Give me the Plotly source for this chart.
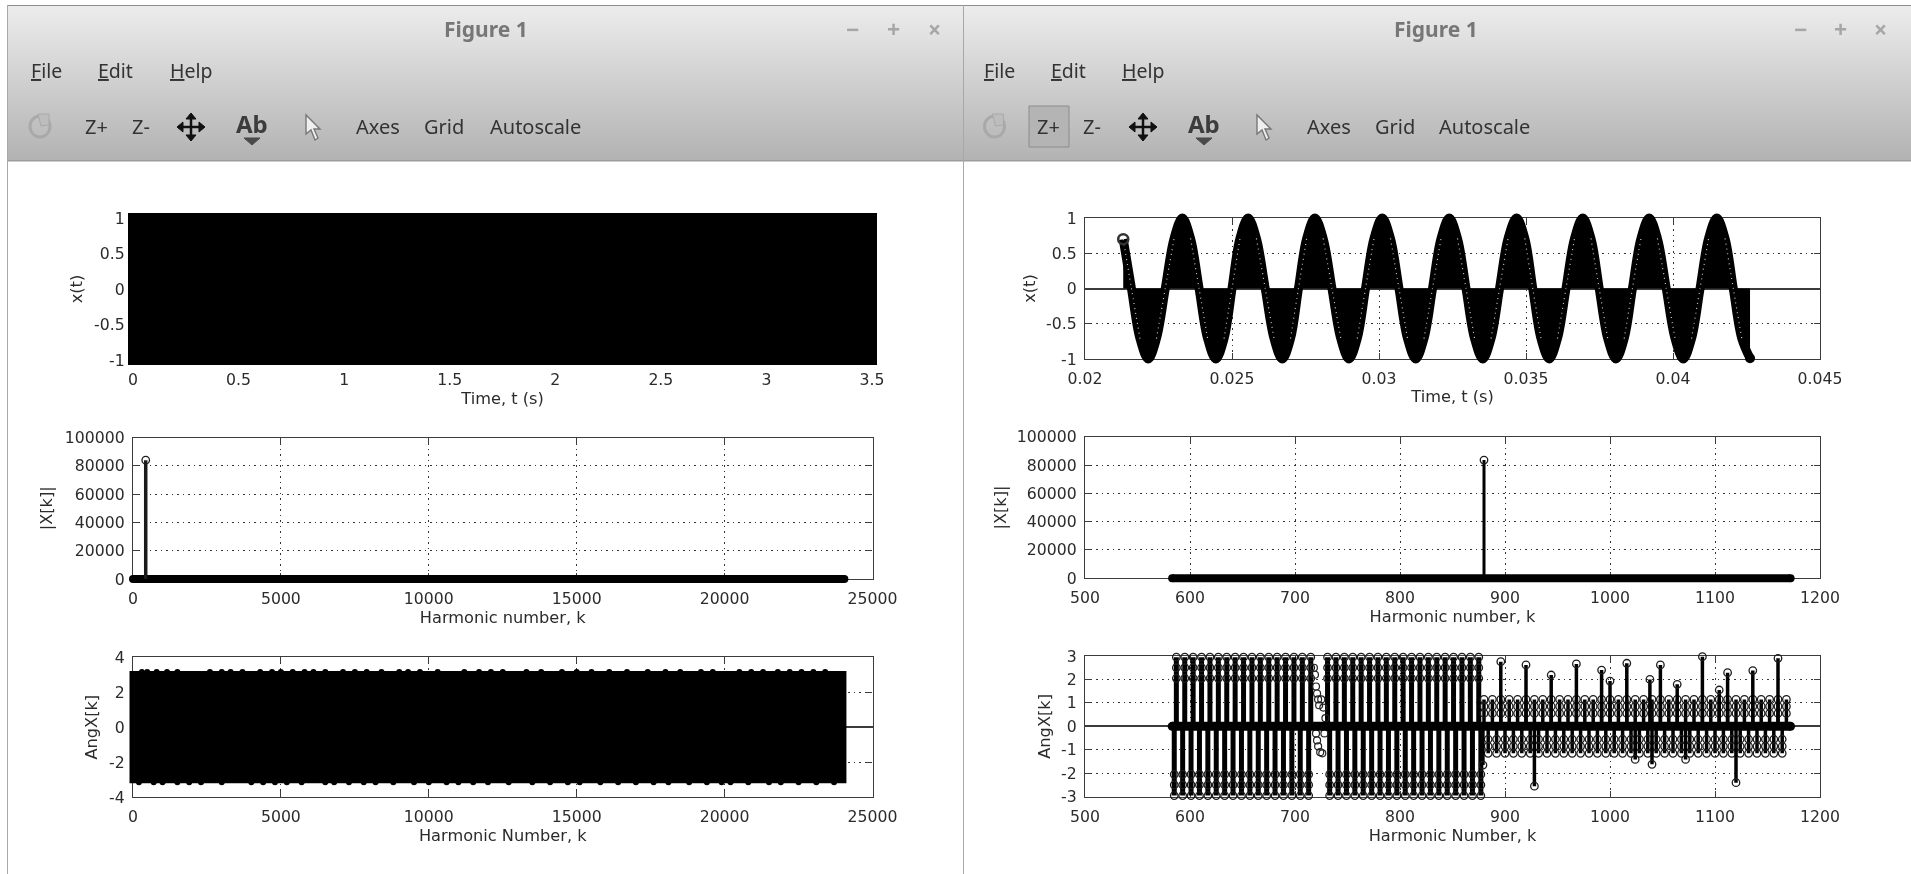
import plotly.graph_objects as go

W, H = 1911, 874

# ---------- data ----------
t_ticks_left = [0, 0.5, 1, 1.5, 2, 2.5, 3, 3.5]
t_labels_left = ["0", "0.5", "1", "1.5", "2", "2.5", "3", "3.5"]
t_ticks_right = [0.02, 0.025, 0.03, 0.035, 0.04, 0.045]
t_labels_right = ["0.02", "0.025", "0.03", "0.035", "0.04", "0.045"]
x_ticks_vals = [-1, -0.5, 0, 0.5, 1]
x_ticks_text = ["-1", "-0.5", "0", "0.5", "1"]
k_ticks_left = [0, 5000, 10000, 15000, 20000, 25000]
k_ticks_right = [500, 600, 700, 800, 900, 1000, 1100, 1200]
mag_ticks = [0, 20000, 40000, 60000, 80000, 100000]
ang_ticks_left = [-4, -2, 0, 2, 4]
ang_ticks_right = [-3, -2, -1, 0, 1, 2, 3]

# left x(t): block of samples
t_block = [0, 3.5, 3.5, 0, 0, 3.5]
x_block = [1, 1, -1, -1, 1, 1]

# right x(t): start, flanks, zero crossings and extremes
t_signal = [0.0213, 0.02158, 0.02187, 0.02215, 0.02243, 0.02273, 0.02303, 0.02331, 0.02359, 0.02388, 0.02417,
            0.02445, 0.02473, 0.02500, 0.02527, 0.02555, 0.02583, 0.02613, 0.02643, 0.02671, 0.02699, 0.02726,
            0.02754, 0.02782, 0.02810, 0.02840, 0.02870, 0.02898, 0.02926, 0.02954, 0.02983, 0.03011, 0.03039,
            0.03068, 0.03097, 0.03125, 0.03153, 0.03182, 0.03211, 0.03239, 0.03267, 0.03296, 0.03325, 0.03353,
            0.03381, 0.03410, 0.03439, 0.03468, 0.03496, 0.03523, 0.03551, 0.03579, 0.03607, 0.03636, 0.03665,
            0.03693, 0.03721, 0.03749, 0.03778, 0.03806, 0.03834, 0.03862, 0.03891, 0.03919, 0.03947, 0.03977,
            0.04007, 0.04035, 0.04063, 0.04092, 0.04121, 0.04149, 0.04177, 0.04205, 0.04234, 0.04262]
x_signal = [0.70, 0, -0.71, -1, -0.71, 0, 0.71, 1, 0.71, 0, -0.71,
            -1, -0.71, 0, 0.71, 1, 0.71, 0, -0.71, -1, -0.71, 0,
            0.71, 1, 0.71, 0, -0.71, -1, -0.71, 0, 0.71, 1, 0.71,
            0, -0.71, -1, -0.71, 0, 0.71, 1, 0.71, 0, -0.71, -1,
            -0.71, 0, 0.71, 1, 0.71, 0, -0.71, -1, -0.71, 0, 0.71,
            1, 0.71, 0, -0.71, -1, -0.71, 0, 0.71, 1, 0.71, 0,
            -0.71, -1, -0.71, 0, 0.71, 1, 0.71, 0, -0.71, -0.99]

# |X[k]|
k_base_left = [0, 24050]
mag_base_left = [0, 0]
k_peak_left = [430]
mag_peak_left = [84000]
k_base_right = [583, 1172]
mag_base_right = [0, 0]
k_peak_right = [880]
mag_peak_right = [83500]

# AngX[k] left block
k_ang_block = [0, 24000, 24000, 0, 0, 24000]
ang_block = [3.0, 3.0, -3.0, -3.0, 3.0, 3.0]
k_bump_top = [300, 480, 800, 1150, 1500, 2600, 3000, 3300, 3700, 4300, 4700, 5000, 5400, 5800, 6100, 6500,
              7100, 7500, 7900, 8400, 9000, 9300, 9700, 10300, 11200, 11700, 12100, 12500, 13300, 13800,
              14500, 15000, 15500, 16100, 16700, 17400, 18000, 18500, 19200, 19600, 20500, 20900, 21300,
              21800, 22200, 22600, 23000, 23400]
ang_bump_top = [3.14] * 48
k_bump_bot = [200, 700, 1000, 1500, 1900, 2300, 3000, 4000, 4400, 4800, 5200, 5700, 6500, 6800, 7300, 7800,
              8200, 8800, 9500, 10000, 10600, 11000, 11500, 12000, 12700, 13500, 14100, 14700, 15100, 15800,
              16400, 17000, 17600, 18100, 18800, 19400, 19900, 20200, 20800, 21500, 21900, 22500, 23100, 23700]
ang_bump_bot = [-3.14] * 44

# AngX[k] right: columns of stems
k_col_up = [587, 595, 603, 611, 619, 627, 635, 643, 651, 659, 667, 675, 683, 691, 699, 707, 715,
            731, 739, 747, 755, 763, 771, 779, 787, 795, 803, 811, 819, 827, 835, 843, 851, 859, 867, 875]
k_col_dn = [585, 593, 601, 609, 617, 625, 633, 641, 649, 657, 665, 673, 681, 689, 697, 705, 713,
            733, 741, 749, 757, 765, 773, 781, 789, 797, 805, 813, 821, 829, 837, 845, 853, 861, 869, 877]
levels_col_up = [2.95, 2.5, 2.05]
levels_col_dn = [-2.95, -2.5, -2.05]

k_small_up = [880, 888, 896, 904, 912, 920, 928, 936, 944, 952, 960, 968, 976, 984, 992, 1000, 1008, 1016,
              1024, 1032, 1040, 1048, 1056, 1064, 1072, 1080, 1088, 1096, 1104, 1112, 1120, 1128, 1136,
              1144, 1152, 1160, 1168]
k_small_dn = [884, 892, 900, 908, 916, 924, 932, 940, 948, 956, 964, 972, 980, 988, 996, 1004, 1012, 1020,
              1028, 1036, 1044, 1052, 1060, 1068, 1076, 1084, 1092, 1100, 1108, 1116, 1124, 1132, 1140,
              1148, 1156, 1164]
levels_small_up = [1.15, 0.85, 0.55]
levels_small_dn = [-1.15, -0.85, -0.55]

k_tall = [896, 920, 944, 968, 992, 1000, 1016, 1038, 1048, 1064, 1088, 1104, 1112, 1136, 1160,
          928, 1024, 1040, 1072, 1120, 879]
ang_tall = [2.76, 2.62, 2.19, 2.66, 2.40, 1.93, 2.69, 2.00, 2.62, 1.79, 2.97, 1.55, 2.29, 2.38, 2.90,
            -2.55, -1.41, -1.62, -1.41, -2.40, -1.65]

k_gap = [718, 719, 720, 721, 722, 723, 725, 727, 729, 720, 721, 722, 724, 726, 728]
ang_gap = [2.5, 2.2, 1.7, 1.4, 1.15, 0.9, 1.15, 0.8, 0.35, -0.3, -0.6, -0.85, -1.1, -1.15, -0.3]

k_zero_right = [583, 1172]
ang_zero_right = [0, 0]

menu_items = ["<u>F</u>ile", "<u>E</u>dit", "<u>H</u>elp"]
tool_items = ["Z+", "Z-", "Axes", "Grid", "Autoscale"]

INK = "#000000"
AXC = "#3c3c3c"
TXT = "#2b2b2b"
FONT = "DejaVu Sans"
FS = 15.7
FT = 16.2
PAD = 14  # px of room around each frame for data drawn past it


def fx(p):
    return p / W


def fy(p):
    return 1 - p / H


def stems(xs, ys):
    ox, oy = [], []
    for a, b in zip(xs, ys):
        ox += [a, a, None]
        oy += [0, b, None]
    return ox, oy


def grid_points(xs, levels):
    ox, oy = [], []
    for a in xs:
        for l in levels:
            ox.append(a)
            oy.append(l)
    return ox, oy


fig = go.Figure()

# ---------- axes ----------
panels = [
    dict(n=1, xd=(133, 872), yd=(218, 360), xr=(0, 3.5), yr=(-1, 1), xt=t_ticks_left, xl=t_labels_left,
         yt=x_ticks_vals, yl=x_ticks_text, xtitle="Time, t (s)", ytitle="x(t)", ystand=7),
    dict(n=2, xd=(133, 872.5), yd=(437.5, 579), xr=(0, 25000), yr=(0, 100000), xt=k_ticks_left,
         xl=[str(v) for v in k_ticks_left], yt=mag_ticks, yl=[str(v) for v in mag_ticks],
         xtitle="Harmonic number, k", ytitle="|X[k]|", ystand=8),
    dict(n=3, xd=(133, 872.5), yd=(657, 797.3), xr=(0, 25000), yr=(-4, 4), xt=k_ticks_left,
         xl=[str(v) for v in k_ticks_left], yt=ang_ticks_left, yl=[str(v) for v in ang_ticks_left],
         xtitle="Harmonic Number, k", ytitle="AngX[k]", ystand=7),
    dict(n=4, xd=(1085, 1820), yd=(218, 359), xr=(0.02, 0.045), yr=(-1, 1), xt=t_ticks_right, xl=t_labels_right,
         yt=x_ticks_vals, yl=x_ticks_text, xtitle="Time, t (s)", ytitle="x(t)", ystand=6),
    dict(n=5, xd=(1085, 1820), yd=(436.7, 578.3), xr=(500, 1200), yr=(0, 100000), xt=k_ticks_right,
         xl=[str(v) for v in k_ticks_right], yt=mag_ticks, yl=[str(v) for v in mag_ticks],
         xtitle="Harmonic number, k", ytitle="|X[k]|", ystand=6),
    dict(n=6, xd=(1085, 1820), yd=(656, 796.7), xr=(500, 1200), yr=(-3, 3), xt=k_ticks_right,
         xl=[str(v) for v in k_ticks_right], yt=ang_ticks_right, yl=[str(v) for v in ang_ticks_right],
         xtitle="Harmonic Number, k", ytitle="AngX[k]", ystand=6),
]
for p in panels:
    n = p["n"]
    xname = "xaxis" if n == 1 else f"xaxis{n}"
    yname = "yaxis" if n == 1 else f"yaxis{n}"
    common = dict(
        showline=True, linecolor=AXC, linewidth=1.4, mirror="ticks", ticks="inside", ticklen=6,
        tickcolor=AXC, tickwidth=1, showgrid=True, gridcolor="#333333", gridwidth=1, griddash="1.5px,4px",
        tickfont=dict(family=FONT, size=FS, color=TXT), automargin=False, layer="below traces",
    )
    fig.update_layout({
        xname: dict(domain=[fx(p["xd"][0]), fx(p["xd"][1])], range=list(p["xr"]), tickmode="array",
                    tickvals=p["xt"], ticktext=p["xl"], anchor=f"y{'' if n == 1 else n}", zeroline=False,
                    ticklabelstandoff=5,
                    title=dict(text=p["xtitle"], font=dict(family=FONT, size=FT, color=TXT), standoff=3),
                    **common),
        yname: dict(domain=[fy(p["yd"][1]), fy(p["yd"][0])], range=list(p["yr"]), tickmode="array",
                    tickvals=p["yt"], ticktext=p["yl"], anchor=f"x{'' if n == 1 else n}",
                    zeroline=True, zerolinecolor=AXC, zerolinewidth=1.5, ticklabelstandoff=4,
                    title=dict(text=p["ytitle"], font=dict(family=FONT, size=FT, color=TXT), standoff=p["ystand"]),
                    **common),
    })
    # an empty trace keeps the framed axes alive
    fig.add_trace(go.Scatter(x=[None], y=[None], xaxis="x" if n == 1 else f"x{n}", yaxis="y" if n == 1 else f"y{n}",
                             mode="lines", showlegend=False, hoverinfo="skip"))
    # hidden twin scale on a slightly larger box, same units per pixel, so thick strokes can pass the frame
    sx_ = (p["xr"][1] - p["xr"][0]) / (p["xd"][1] - p["xd"][0])
    sy_ = (p["yr"][1] - p["yr"][0]) / (p["yd"][1] - p["yd"][0])
    m = n + 6
    fig.update_layout({
        f"xaxis{m}": dict(domain=[fx(p["xd"][0] - PAD), fx(p["xd"][1] + PAD)], anchor=f"y{m}", visible=False,
                          range=[p["xr"][0] - PAD * sx_, p["xr"][1] + PAD * sx_], automargin=False),
        f"yaxis{m}": dict(domain=[fy(p["yd"][1] + PAD), fy(p["yd"][0] - PAD)], anchor=f"x{m}", visible=False,
                          range=[p["yr"][0] - PAD * sy_, p["yr"][1] + PAD * sy_], automargin=False),
    })


def add(n, **kw):
    kw.setdefault("hoverinfo", "skip")
    kw.setdefault("showlegend", False)
    kw.setdefault("cliponaxis", False)
    fig.add_trace(go.Scatter(xaxis=f"x{n + 6}", yaxis=f"y{n + 6}", **kw))


OPEN = dict(symbol="circle-open", size=7.5, color="#1c1c1c", line=dict(color="#1c1c1c", width=1.3))

# panel 1
add(1, x=t_block, y=x_block, mode="lines", fill="toself", fillcolor=INK, line=dict(color=INK, width=10))

# panel 2
add(2, x=k_base_left, y=mag_base_left, mode="lines+markers", line=dict(color=INK, width=8),
    marker=dict(color=INK, size=8))
sx, sy = stems(k_peak_left, mag_peak_left)
add(2, x=sx, y=sy, mode="lines", line=dict(color="#1a1a1a", width=3.5))
add(2, x=k_peak_left, y=mag_peak_left, mode="markers", marker=OPEN)

# panel 3
add(3, x=k_ang_block, y=ang_block, mode="lines", fill="toself", fillcolor=INK, line=dict(color=INK, width=7))
add(3, x=k_bump_top, y=ang_bump_top, mode="markers", marker=dict(color=INK, size=6))
add(3, x=k_bump_bot, y=ang_bump_bot, mode="markers", marker=dict(color=INK, size=6))

# panel 4
add(4, x=t_signal, y=x_signal, mode="lines", fill="tozeroy", fillcolor=INK,
    line=dict(color=INK, width=9, shape="spline", smoothing=1.0))
x_flank = [v if abs(v) < 0.9 else None for v in x_signal]
add(4, x=t_signal, y=x_flank, mode="lines", line=dict(color="#c8c8c8", width=1.2, dash="1px,4px", shape="spline"))
add(4, x=t_signal[:1], y=x_signal[:1], mode="markers", marker=dict(symbol="circle-open", size=10, color="#333333",
                                                                  line=dict(color="#333333", width=2.5)))
add(4, x=t_signal[-1:], y=x_signal[-1:], mode="markers", marker=dict(color=INK, size=10))

# panel 5
add(5, x=k_base_right, y=mag_base_right, mode="lines+markers", line=dict(color=INK, width=8),
    marker=dict(color=INK, size=8))
sx, sy = stems(k_peak_right, mag_peak_right)
add(5, x=sx, y=sy, mode="lines", line=dict(color=INK, width=3))
add(5, x=k_peak_right, y=mag_peak_right, mode="markers", marker=OPEN)

# panel 6
sx, sy = stems(k_col_up, [levels_col_up[0]] * len(k_col_up))
add(6, x=sx, y=sy, mode="lines", line=dict(color=INK, width=5))
sx, sy = stems(k_col_dn, [levels_col_dn[0]] * len(k_col_dn))
add(6, x=sx, y=sy, mode="lines", line=dict(color=INK, width=5))
gx, gy = grid_points(k_col_up, levels_col_up)
add(6, x=gx, y=gy, mode="markers", marker=OPEN)
gx, gy = grid_points(k_col_dn, levels_col_dn)
add(6, x=gx, y=gy, mode="markers", marker=OPEN)
sx, sy = stems(k_small_up, [levels_small_up[0]] * len(k_small_up))
add(6, x=sx, y=sy, mode="lines", line=dict(color=INK, width=3.5))
sx, sy = stems(k_small_dn, [levels_small_dn[0]] * len(k_small_dn))
add(6, x=sx, y=sy, mode="lines", line=dict(color=INK, width=3.5))
gx, gy = grid_points(k_small_up, levels_small_up)
add(6, x=gx, y=gy, mode="markers", marker=OPEN)
gx, gy = grid_points(k_small_dn, levels_small_dn)
add(6, x=gx, y=gy, mode="markers", marker=OPEN)
sx, sy = stems(k_tall, ang_tall)
add(6, x=sx, y=sy, mode="lines", line=dict(color=INK, width=3.5))
add(6, x=k_tall, y=ang_tall, mode="markers", marker=OPEN)
add(6, x=k_gap, y=ang_gap, mode="markers", marker=dict(symbol="circle-open", size=7, color="#222222",
                                                       line=dict(color="#222222", width=1.2)))
add(6, x=k_zero_right, y=ang_zero_right, mode="lines+markers", line=dict(color=INK, width=9),
    marker=dict(color=INK, size=9))

# ---------- window chrome (layout decoration) ----------
shapes = []
annos = []


def rect(x0, y0, x1, y1, fill, line=None, layer="below"):
    shapes.append(dict(type="rect", xref="paper", yref="paper", x0=fx(x0), x1=fx(x1), y0=fy(y0), y1=fy(y1),
                       fillcolor=fill, line=dict(width=1 if line else 0, color=line or fill), layer=layer))


def path(points, fill=None, line=None, width=1, close=True):
    d = "M " + " L ".join(f"{fx(a):.5f},{fy(b):.5f}" for a, b in points) + (" Z" if close else "")
    shapes.append(dict(type="path", xref="paper", yref="paper", path=d, fillcolor=fill or "rgba(0,0,0,0)",
                       line=dict(color=line or "rgba(0,0,0,0)", width=width), layer="below"))


def text(x, y, s, size=18, color="#3a3a3a", family="Noto Sans", anchor="center"):
    annos.append(dict(xref="paper", yref="paper", x=fx(x), y=fy(y), text=s, showarrow=False, xanchor=anchor,
                      yanchor="middle", align="center", font=dict(family=family, size=size, color=color)))


def grad_bar(x0, x1):
    top, bot = 236, 178
    for py in range(6, 160, 2):
        f = (py - 6) / 154
        v = int(round(top + (bot - top) * f))
        c = f"rgb({v},{v},{v})"
        rect(x0, py, x1, py + 2, c)
    rect(x0, 160, x1, 161.5, "#9c9c9c")
    rect(x0, 5, x1, 6, "#8e8e8e")


windows = [
    dict(x0=8, x1=964, title=486, ctrl=(852, 893, 934), menu=(46, 115.5, 190.5),
         tools=(96, 141, 378, 444, 535), reload=40, pan=191, ab=252, cur=312, active=False),
    dict(x0=964, x1=1911, title=1436, ctrl=(1800, 1840.5, 1880), menu=(999.5, 1068.5, 1143),
         tools=(1048, 1092, 1329, 1395, 1484.5), reload=994.5, pan=1143, ab=1204, cur=1263, active=True),
]
for w in windows:
    grad_bar(w["x0"], w["x1"])
    rect(w["x0"] - 1, 5, w["x0"], H, "#a8a8a8")
    text(w["title"], 29.5, "<b>Figure 1</b>", size=21, color="#777777")
    for cx, s in zip(w["ctrl"], ["\u2212", "+", "\u00d7"]):
        text(cx, 29.5, f"<b>{s}</b>", size=23, color="#a6a6a6")
    for cx, s in zip(w["menu"], menu_items):
        text(cx, 70.5, s, size=19.5, color="#333333")
    if w["active"]:
        shapes.append(dict(type="rect", xref="paper", yref="paper", x0=fx(1029), x1=fx(1069), y0=fy(147), y1=fy(106),
                           fillcolor="#b4b4b4", line=dict(color="#8c8c8c", width=1), layer="below"))
    for cx, s in zip(w["tools"], tool_items):
        text(cx, 126.5, s, size=20, color="#333333")
    # reload icon
    rc = w["reload"]
    shapes.append(dict(type="circle", xref="paper", yref="paper", x0=fx(rc - 10), x1=fx(rc + 10), y0=fy(137), y1=fy(116),
                       line=dict(color="#a9a9a9", width=3), fillcolor="rgba(0,0,0,0)", layer="below"))
    path([(rc - 2, 114), (rc + 9, 114), (rc + 9, 125), (rc + 1, 126)], fill="#bdbdbd", line="#a9a9a9", width=1)
    # pan icon
    pc, py = w["pan"], 127
    path([(pc - 12, py), (pc + 12, py)], line="#111111", width=2.5, close=False)
    path([(pc, py - 12), (pc, py + 12)], line="#111111", width=2.5, close=False)
    path([(pc - 14, py), (pc - 8, py - 5), (pc - 8, py + 5)], fill="#111111", line="#111111")
    path([(pc + 14, py), (pc + 8, py - 5), (pc + 8, py + 5)], fill="#111111", line="#111111")
    path([(pc, py - 14), (pc - 5, py - 8), (pc + 5, py - 8)], fill="#111111", line="#111111")
    path([(pc, py + 14), (pc - 5, py + 8), (pc + 5, py + 8)], fill="#111111", line="#111111")
    # Ab icon
    ac = w["ab"]
    text(ac, 124, "<b>Ab</b>", size=24, color="#3c3c3c")
    path([(ac - 8, 138), (ac + 8, 138), (ac, 145)], fill="#4a4a4a", line="#4a4a4a")
    # cursor icon
    cc = w["cur"]
    path([(cc - 6, 115), (cc - 6, 134), (cc - 1, 130), (cc + 3, 140), (cc + 6, 138), (cc + 2, 129), (cc + 8, 129)],
         fill="#efefef", line="#777777", width=1.4)

fig.update_layout(
    template="none",
    width=W, height=H, margin=dict(l=0, r=0, t=0, b=0, pad=0), paper_bgcolor="white", plot_bgcolor="rgba(0,0,0,0)",
    shapes=shapes, annotations=annos, showlegend=False, hovermode=False, autosize=False,
    font=dict(family=FONT, color=TXT),
)

fig.write_html(
    "out.html",
    config=dict(displayModeBar=False),
    post_script="document.body.style.margin='0';document.body.style.overflow='hidden';"
                "document.querySelectorAll('.main-svg').forEach(function(s){s.style.filter='blur(0.45px)';});",
)
